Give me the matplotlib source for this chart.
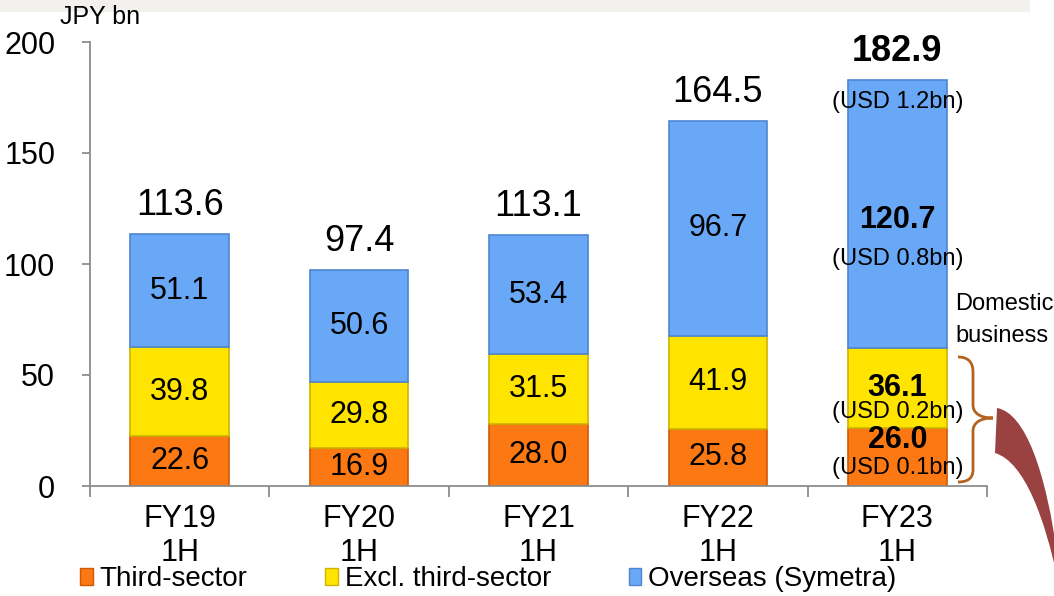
import numpy as np
import matplotlib
matplotlib.use("Agg")
import matplotlib.pyplot as plt
from matplotlib.patches import Patch, PathPatch, Rectangle
from matplotlib.path import Path

plt.rcParams['font.family'] = ['Liberation Sans', 'DejaVu Sans']

periods = ['FY19\n1H', 'FY20\n1H', 'FY21\n1H', 'FY22\n1H', 'FY23\n1H']
third_sector = [22.6, 16.9, 28.0, 25.8, 26.0]
excl_third = [39.8, 29.8, 31.5, 41.9, 36.1]
overseas = [51.1, 50.6, 53.4, 96.7, 120.7]
totals = [113.6, 97.4, 113.1, 164.5, 182.9]
usd_total = '(USD 1.2bn)'
usd_segments = ['(USD 0.1bn)', '(USD 0.2bn)', '(USD 0.8bn)']

W, H = 1054, 596
fig = plt.figure(figsize=(W / 100, H / 100), dpi=100)
ax = fig.add_axes([90 / W, 1 - 486 / H, 897 / W, 444 / H])


def px(x, y):
    return (x / W, 1 - y / H)


# light band along the top of the slide
fig.patches.append(Rectangle(px(0, 12), 1030 / W, 12 / H, transform=fig.transFigure,
                             facecolor='#f2f1ed', edgecolor='none', zorder=0))

x = np.arange(len(periods))
width = 0.55
c_orange, c_yellow, c_blue = '#fc7812', '#ffe400', '#68a8f6'
e_orange, e_yellow, e_blue = '#cf5a06', '#cdb400', '#4d86cf'

ax.bar(x, third_sector, width, color=c_orange, edgecolor=e_orange, linewidth=1.2)
bottom2 = np.array(third_sector)
ax.bar(x, excl_third, width, bottom=bottom2, color=c_yellow, edgecolor=e_yellow, linewidth=1.2)
bottom3 = bottom2 + np.array(excl_third)
ax.bar(x, overseas, width, bottom=bottom3, color=c_blue, edgecolor=e_blue, linewidth=1.2)
tops = bottom3 + np.array(overseas)

ax.set_xlim(-0.5, len(periods) - 0.5)
ax.set_ylim(0, 200)
ax.set_yticks([0, 50, 100, 150, 200])
ax.tick_params(axis='y', labelsize=22, length=6, width=1.3, color='#8c8c8c', pad=19,
               direction='out')
ax.set_xticks(np.arange(len(periods) + 1) - 0.5)
ax.set_xticklabels([])
ax.set_xticks(x, minor=True)
ax.set_xticklabels(periods, minor=True, fontsize=22, linespacing=1.15)
ax.tick_params(axis='x', which='major', length=8, width=1.3, color='#8c8c8c', direction='out')
ax.tick_params(axis='x', which='minor', length=0, pad=13)
for s in ['top', 'right']:
    ax.spines[s].set_visible(False)
for s in ['left', 'bottom']:
    ax.spines[s].set_color('#8c8c8c')
    ax.spines[s].set_linewidth(1.3)

last = len(periods) - 1
for i, (a, b, c) in enumerate(zip(third_sector, excl_third, overseas)):
    centers = [a / 2, a + b / 2, a + b + c / 2]
    vals = [a, b, c]
    if i != last:
        for v, cy in zip(vals, centers):
            ax.text(i, cy, f'{v:.1f}', ha='center', va='center', fontsize=22)
        ax.annotate(f'{totals[i]:.1f}', (i, tops[i]), xytext=(0, 8), textcoords='offset points',
                    ha='center', va='bottom', fontsize=26)
    else:
        # value / USD line offsets (points) for orange, yellow, blue
        offs = [(12, -8), (0, -17), (-4, -32)]
        for v, cy, (ov, ou), usd in zip(vals, centers, offs, usd_segments):
            ax.annotate(f'{v:.1f}', (i, cy), xytext=(0, ov), textcoords='offset points',
                        ha='center', va='center', fontsize=22, fontweight='bold')
            ax.annotate(usd, (i, cy), xytext=(0, ou), textcoords='offset points',
                        ha='center', va='center', fontsize=17)
        ax.annotate(f'{totals[i]:.1f}', (i, tops[i]), xytext=(0, 8), textcoords='offset points',
                    ha='center', va='bottom', fontsize=26, fontweight='bold')
        ax.annotate(usd_total, (i, tops[i]), xytext=(0, -16), textcoords='offset points',
                    ha='center', va='center', fontsize=17)

fig.text(*px(60, 17), 'JPY bn', fontsize=18, ha='left', va='center')
fig.text(*px(955, 304), 'Domestic', fontsize=17, ha='left', va='center')
fig.text(*px(955, 336), 'business', fontsize=17, ha='left', va='center')

# curly brace around the domestic segments
brace = [px(958, 357), px(968, 357), px(973, 362), px(973, 372), px(973, 405),
         px(973, 413), px(980, 418), px(993, 418),
         px(980, 418), px(973, 423), px(973, 431), px(973, 470),
         px(973, 478), px(968, 482), px(958, 482)]
codes = [Path.MOVETO, Path.CURVE4, Path.CURVE4, Path.CURVE4, Path.LINETO,
         Path.CURVE4, Path.CURVE4, Path.CURVE4,
         Path.CURVE4, Path.CURVE4, Path.CURVE4, Path.LINETO,
         Path.CURVE4, Path.CURVE4, Path.CURVE4]
fig.patches.append(PathPatch(Path(brace, codes), transform=fig.transFigure, fill=False,
                             edgecolor='#b4621e', linewidth=2))

# curved arrow leaving the frame at the bottom right
arrow = [px(997, 408), px(1025, 413), px(1046, 470), px(1058, 560),
         px(1058, 580),
         px(1045, 520), px(1025, 462), px(995, 453), px(997, 408)]
acodes = [Path.MOVETO, Path.CURVE4, Path.CURVE4, Path.CURVE4, Path.LINETO,
          Path.CURVE4, Path.CURVE4, Path.CURVE4, Path.CLOSEPOLY]
fig.patches.append(PathPatch(Path(arrow, acodes), transform=fig.transFigure,
                             facecolor='#9a4242', edgecolor='none'))

handles = [Patch(facecolor=c_orange, edgecolor=e_orange),
           Patch(facecolor=c_yellow, edgecolor=e_yellow),
           Patch(facecolor=c_blue, edgecolor=e_blue)]
fig.legend(handles, ['Third-sector', 'Excl. third-sector', 'Overseas (Symetra)'],
           loc='center left', bbox_to_anchor=px(80, 579), ncol=3, frameon=False,
           fontsize=20, handlelength=0.45, handleheight=0.55, handletextpad=0.25,
           columnspacing=2.8, borderpad=0, borderaxespad=0)

fig.savefig('out.png', dpi=100)
